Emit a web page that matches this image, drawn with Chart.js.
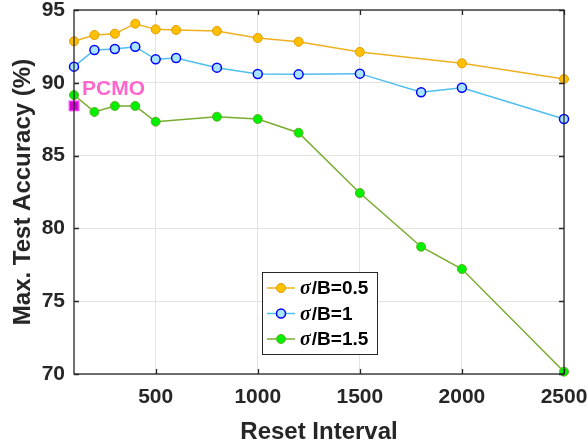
<!DOCTYPE html>
<html>
<head>
<meta charset="utf-8">
<script src="https://cdn.jsdelivr.net/npm/chart.js@4"></script>
<style>
  html, body { margin: 0; padding: 0; background: #fff; }
  #wrap { width: 587px; height: 444px; }
</style>
</head>
<body>
<div id="wrap"><canvas id="accChart" width="587" height="444"></canvas></div>
<script>
// Reset interval values per series
const xOrange = [100, 200, 300, 400, 500, 600, 800, 1000, 1200, 1500, 2000, 2500];
const accOrange = [92.85, 93.28, 93.37, 94.06, 93.67, 93.63, 93.56, 93.08, 92.82, 92.12, 91.34, 90.26];

const xBlue = [100, 200, 300, 400, 500, 600, 800, 1000, 1200, 1500, 1800, 2000, 2500];
const accBlue = [91.11, 92.25, 92.32, 92.48, 91.61, 91.70, 91.04, 90.60, 90.58, 90.63, 89.35, 89.66, 87.51];

const xGreen = [100, 200, 300, 400, 500, 800, 1000, 1200, 1500, 1800, 2000, 2500];
const accGreen = [89.16, 88.00, 88.41, 88.41, 87.33, 87.67, 87.51, 86.57, 82.43, 78.74, 77.21, 70.16];

const xPcmo = [100];
const accPcmo = [88.41];

const seriesLabels = ['0.5', '1', '1.5'];
const xTicks = [500, 1000, 1500, 2000, 2500];
const yTicks = [70, 75, 80, 85, 90, 95];

const TEXT = '#262626';

function toPoints(xs, ys) {
    return xs.map((x, i) => ({ x: x, y: ys[i] }));
}

// MATLAB style box with inward ticks
const framePlugin = {
    id: 'frame',
    afterDatasetsDraw(chart) {
        const { ctx, chartArea: a, scales } = chart;
        ctx.save();
        ctx.strokeStyle = TEXT;
        ctx.lineWidth = 1.3;
        ctx.strokeRect(a.left, a.top, a.right - a.left, a.bottom - a.top);
        ctx.beginPath();
        const tl = 5;
        xTicks.forEach(v => {
            const px = Math.round(scales.x.getPixelForValue(v)) + 0.5;
            ctx.moveTo(px, a.bottom); ctx.lineTo(px, a.bottom - tl);
            ctx.moveTo(px, a.top); ctx.lineTo(px, a.top + tl);
        });
        yTicks.forEach(v => {
            const py = Math.round(scales.y.getPixelForValue(v)) + 0.5;
            ctx.moveTo(a.left, py); ctx.lineTo(a.left + tl, py);
            ctx.moveTo(a.right, py); ctx.lineTo(a.right - tl, py);
        });
        ctx.stroke();
        ctx.restore();
    },
    afterDraw(chart) {
        const { ctx, scales } = chart;
        ctx.save();
        // PCMO label
        ctx.font = 'bold 21px "Liberation Sans", Arial, sans-serif';
        ctx.fillStyle = '#FF66CC';
        ctx.textBaseline = 'middle';
        ctx.textAlign = 'left';
        ctx.fillText('PCMO', scales.x.getPixelForValue(xPcmo[0]) + 8, scales.y.getPixelForValue(accPcmo[0]) - 17);

        // legend box
        const bx = 262, by = 272, bw = 115, bh = 82;
        ctx.fillStyle = '#fff';
        ctx.fillRect(bx, by, bw, bh);
        ctx.strokeStyle = TEXT;
        ctx.lineWidth = 1;
        ctx.strokeRect(bx + 0.5, by + 0.5, bw, bh);
        for (let i = 0; i < 3; i++) {
            const ds = chart.data.datasets[i];
            const ry = by + 16 + i * 25.5;
            ctx.strokeStyle = ds.borderColor;
            ctx.lineWidth = ds.borderWidth;
            ctx.beginPath();
            ctx.moveTo(bx + 5, ry); ctx.lineTo(bx + 33, ry);
            ctx.stroke();
            ctx.beginPath();
            ctx.arc(bx + 19, ry, ds.pointRadius, 0, Math.PI * 2);
            ctx.fillStyle = ds.pointBackgroundColor;
            ctx.fill();
            ctx.strokeStyle = ds.pointBorderColor;
            ctx.lineWidth = ds.pointBorderWidth;
            ctx.stroke();
            ctx.fillStyle = '#000';
            ctx.textAlign = 'left';
            ctx.textBaseline = 'middle';
            ctx.font = 'italic bold 20px "Liberation Serif", serif';
            ctx.fillText('\u03c3', bx + 38, ry + 1);
            const sw = ctx.measureText('\u03c3').width;
            ctx.font = 'bold 19px "Liberation Sans", Arial, sans-serif';
            ctx.fillText('/B=' + seriesLabels[i], bx + 38 + sw + 1, ry + 1);
        }
        ctx.restore();
    }
};

const tickFont = { family: '"Liberation Sans", Arial, sans-serif', size: 21, weight: 'bold' };
const titleFont = { family: '"Liberation Sans", Arial, sans-serif', size: 24, weight: 'bold', lineHeight: 1 };

const ctx = document.getElementById('accChart');
new Chart(ctx, {
    type: 'line',
    data: {
        datasets: [
            {
                label: 'sigma/B=0.5',
                data: toPoints(xOrange, accOrange),
                borderColor: '#EDB120',
                borderWidth: 1.5,
                pointRadius: 4.5,
                pointBackgroundColor: '#FFC000',
                pointBorderColor: '#E39A00',
                pointBorderWidth: 1,
                clip: false
            },
            {
                label: 'sigma/B=1',
                data: toPoints(xBlue, accBlue),
                borderColor: '#4DBEEE',
                borderWidth: 1.5,
                pointRadius: 4.5,
                pointBackgroundColor: '#A8E6FF',
                pointBorderColor: '#0000FF',
                pointBorderWidth: 1.5,
                clip: false
            },
            {
                label: 'sigma/B=1.5',
                data: toPoints(xGreen, accGreen),
                borderColor: '#77AC30',
                borderWidth: 1.5,
                pointRadius: 4.5,
                pointBackgroundColor: '#00F000',
                pointBorderColor: '#66B02A',
                pointBorderWidth: 1,
                clip: false
            },
            {
                label: 'PCMO',
                data: toPoints(xPcmo, accPcmo),
                showLine: false,
                pointStyle: 'rect',
                pointRadius: 6.5,
                pointBackgroundColor: '#CC00CC',
                pointBorderColor: '#FF33FF',
                pointBorderWidth: 1.5,
                clip: false
            }
        ]
    },
    options: {
        responsive: false,
        animation: false,
        layout: { padding: { top: 10, right: 23, left: 0, bottom: 0 } },
        plugins: {
            legend: { display: false },
            tooltip: { enabled: false }
        },
        scales: {
            x: {
                type: 'linear',
                min: 100,
                max: 2500,
                afterBuildTicks: s => { s.ticks = xTicks.map(v => ({ value: v })); },
                afterFit: s => { s.height = 70; s.paddingLeft = 0; s.paddingRight = 0; },
                grid: { color: '#E3E3E3', lineWidth: 1, drawTicks: false },
                border: { display: false },
                ticks: {
                    padding: 11,
                    color: TEXT,
                    font: tickFont,
                    callback: v => String(v)
                },
                title: {
                    display: true,
                    text: 'Reset Interval',
                    color: TEXT,
                    padding: { top: 3, bottom: 0 },
                    font: titleFont
                }
            },
            y: {
                min: 70,
                max: 95,
                afterBuildTicks: s => { s.ticks = yTicks.map(v => ({ value: v })); },
                afterFit: s => { s.width = 74; s.paddingTop = 0; s.paddingBottom = 0; },
                grid: { color: '#E3E3E3', lineWidth: 1, drawTicks: false },
                border: { display: false },
                ticks: {
                    padding: 9,
                    color: TEXT,
                    font: tickFont,
                    callback: v => String(v)
                },
                title: {
                    display: true,
                    text: 'Max. Test Accuracy (%)',
                    color: TEXT,
                    padding: { top: 11, bottom: 0 },
                    font: titleFont
                }
            }
        }
    },
    plugins: [framePlugin]
});
</script>
</body>
</html>
